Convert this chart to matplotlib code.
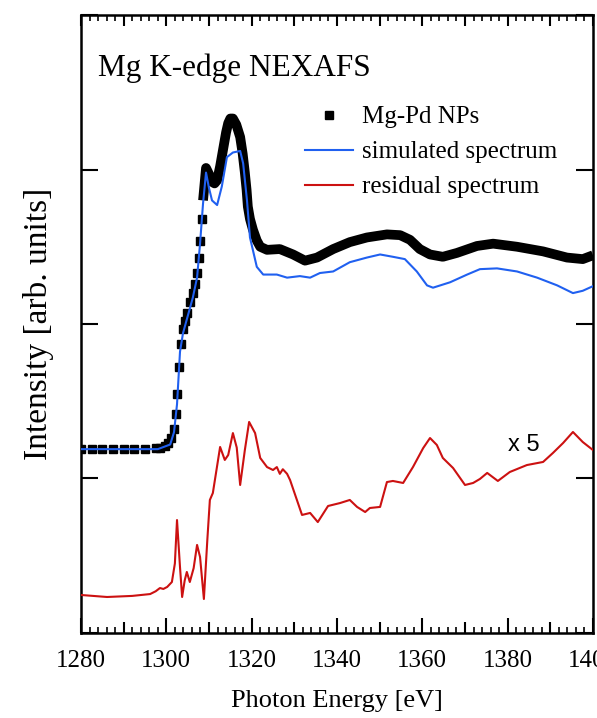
import numpy as np
import matplotlib
matplotlib.use("Agg")
import matplotlib.pyplot as plt
from matplotlib.ticker import MultipleLocator, FuncFormatter
from matplotlib.lines import Line2D

E_exp = [1280, 1282.5, 1285, 1287.5, 1290, 1292.5, 1295, 1297.5, 1298.6, 1299.6,
         1300.5, 1301.2, 1301.8, 1302.2, 1302.6, 1303.0, 1303.4, 1303.9, 1304.4,
         1304.8, 1305.5, 1306.2, 1306.7, 1307.2, 1307.6, 1307.9, 1308.3, 1308.6,
         1309.0, 1309.3, 1310.0, 1310.7, 1311.3, 1311.9, 1312.6, 1313.3, 1314.0,
         1314.5, 1315.0, 1315.6, 1316.4, 1317.3, 1317.9, 1318.4, 1318.8, 1319.1,
         1319.6, 1320.3, 1321.2, 1322.0, 1323.6, 1326.6, 1329.7, 1332.5, 1335.3,
         1339.1, 1343.0, 1347.0, 1351.7, 1354.8, 1357.1, 1359.4, 1361.8, 1364.8,
         1368.1, 1372.8, 1376.6, 1382.2, 1388.3, 1393.9, 1397.6, 1400.0]
I_exp = [1.19, 1.19, 1.19, 1.19, 1.19, 1.19, 1.19, 1.20, 1.20, 1.21,
         1.23, 1.26, 1.32, 1.42, 1.55, 1.72, 1.87, 1.97, 2.02,
         2.07, 2.14, 2.20, 2.26, 2.33, 2.43, 2.54, 2.68, 2.80,
         2.92, 3.01, 2.97, 2.92, 2.91, 2.93, 3.02, 3.13, 3.24,
         3.30, 3.33, 3.33, 3.29, 3.21, 3.10, 2.98, 2.87, 2.76,
         2.68, 2.61, 2.54, 2.50, 2.48, 2.485, 2.45, 2.41, 2.43,
         2.485, 2.53, 2.56, 2.58, 2.575, 2.545, 2.485, 2.45, 2.435,
         2.46, 2.505, 2.52, 2.50, 2.47, 2.43, 2.42, 2.445]

# simulated spectrum
E_sim = [1280, 1290, 1298, 1300.9, 1301.8, 1302.5, 1303.2, 1303.9, 1304.8, 1306.2,
         1307.2, 1307.9, 1308.6, 1309.3, 1310.0, 1310.7, 1311.9, 1313.0, 1314.2,
         1315.6, 1317.3, 1318.0, 1318.9, 1319.6, 1321.2, 1322.7, 1325.9, 1328.3,
         1331.3, 1333.7, 1336.0, 1339.1, 1343.0, 1347.0, 1350.1, 1353.1, 1355.9,
         1358.7, 1361.1, 1362.5, 1366.5, 1370.5, 1373.5, 1377.5, 1382.2, 1386.9,
         1391.6, 1395.3, 1397.6, 1400.0]
I_sim = [1.19, 1.19, 1.19, 1.22, 1.30, 1.48, 1.82, 1.94, 2.03, 2.17,
         2.30, 2.52, 2.78, 2.98, 2.88, 2.80, 2.77, 2.89, 3.08,
         3.11, 3.12, 3.04, 2.80, 2.56, 2.37, 2.32, 2.32, 2.30,
         2.31, 2.30, 2.33, 2.34, 2.40, 2.43, 2.45, 2.435, 2.42,
         2.34, 2.25, 2.235, 2.27, 2.32, 2.355, 2.36, 2.34, 2.30,
         2.25, 2.20, 2.215, 2.245]

# residual spectrum (x5, offset)
E_res = [1280.0, 1286.1, 1292.0, 1296.2, 1297.5, 1298.5, 1299.3, 1300.2, 1301.3,
         1302.0, 1302.5, 1303.2, 1303.7, 1304.3, 1304.8, 1305.5, 1306.4, 1307.2,
         1307.9, 1308.8, 1309.6, 1310.2, 1310.9, 1312.6, 1313.7, 1314.5, 1315.6,
         1316.5, 1317.3, 1318.4, 1319.4, 1320.8, 1322.0, 1323.6, 1325.0, 1325.9,
         1326.6, 1327.3, 1328.3, 1329.0, 1330.6, 1331.8, 1333.7, 1335.5, 1337.9,
         1340.7, 1343.0, 1344.7, 1346.6, 1347.7, 1350.1, 1351.7, 1353.1, 1355.5,
         1357.8, 1360.2, 1361.8, 1363.4, 1364.8, 1367.2, 1370.0, 1371.9, 1373.5,
         1375.2, 1377.7, 1380.5, 1384.5, 1388.3, 1390.6, 1393.0, 1395.3, 1397.6,
         1400.0]
I_res = [0.246, 0.233, 0.240, 0.252, 0.270, 0.291, 0.285, 0.298, 0.330,
         0.45, 0.731, 0.427, 0.233, 0.340, 0.395, 0.330, 0.420, 0.570,
         0.492, 0.220, 0.60, 0.861, 0.906, 1.204, 1.120, 1.152, 1.294,
         1.20, 0.958, 1.184, 1.366, 1.294, 1.133, 1.074, 1.055, 1.074,
         1.030, 1.060, 1.030, 0.990, 0.861, 0.764, 0.777, 0.718, 0.822,
         0.841, 0.861, 0.816, 0.783, 0.809, 0.816, 0.977, 0.984, 0.971,
         1.074, 1.197, 1.262, 1.217, 1.133, 1.068, 0.958, 0.971, 0.997,
         1.036, 0.984, 1.042, 1.087, 1.107, 1.165, 1.230, 1.301, 1.236,
         1.184]

serif = ["Liberation Serif", "DejaVu Serif"]
blue = "#2060f0"
red = "#cc1111"

fig = plt.figure(figsize=(5.97, 7.18), dpi=100)
ax = fig.add_axes([0.1357, 0.1184, 0.8576, 0.8607])

E_exp_a = np.array(E_exp)
I_exp_a = np.array(I_exp)
dense = E_exp_a >= 1308.5
ax.plot(E_exp_a[dense], I_exp_a[dense], color="k", lw=7, solid_capstyle="butt",
        solid_joinstyle="round", zorder=2)
ax.plot(E_exp_a[~dense], I_exp_a[~dense], ls="none", marker="s", ms=5.5, color="k", zorder=2)
ax.plot(E_sim, I_sim, color=blue, lw=1.5, zorder=3)
ax.plot(E_res, I_res, color=red, lw=1.5, zorder=3)

ax.set_xlim(1280, 1400)
ax.set_ylim(0, 4)

ax.xaxis.set_major_locator(MultipleLocator(10))
ax.xaxis.set_minor_locator(MultipleLocator(2))
ax.xaxis.set_major_formatter(FuncFormatter(lambda v, p: f"{v:.0f}" if round(v) % 20 == 0 else ""))
ax.yaxis.set_major_locator(MultipleLocator(1))
ax.yaxis.set_major_formatter(FuncFormatter(lambda v, p: ""))

ax.tick_params(axis="x", which="major", direction="in", top=True, length=8, width=1.5, pad=12,
               labelsize=18)
ax.tick_params(axis="x", which="minor", direction="in", top=True, length=4.5, width=1.2)
ax.tick_params(axis="y", which="major", direction="in", right=True, length=12, width=1.5)
for lab in ax.get_xticklabels():
    lab.set_family(serif)
for t in ax.xaxis.get_major_ticks():
    if round(t.get_loc()) % 20 == 0:
        t.tick1line.set_markersize(11)
        t.tick2line.set_markersize(8)
for s in ax.spines.values():
    s.set_linewidth(1.8)

ax.set_xlabel("Photon Energy [eV]", family=serif, fontsize=19, labelpad=13)
ax.set_ylabel("Intensity [arb. units]", family=serif, fontsize=24, labelpad=16)

ax.text(0.033, 0.914, "Mg K-edge NEXAFS", transform=ax.transAxes, family=serif,
        fontsize=22.5, va="center", ha="left")
ax.text(1380.1, 1.22, "x 5", family=["Liberation Sans", "DejaVu Sans"], fontsize=17,
        va="center", ha="left")

handles = [Line2D([], [], ls="none", marker="s", ms=5.5, color="k"),
           Line2D([], [], color=blue, lw=1.5),
           Line2D([], [], color=red, lw=1.5)]
ax.legend(handles, ["Mg-Pd NPs", "simulated spectrum", "residual spectrum"],
          loc="upper left", bbox_to_anchor=(0.4375, 0.853), frameon=False,
          prop={"family": serif, "size": 18}, handlelength=1.9, handletextpad=0.36,
          labelspacing=0.5, borderaxespad=0, borderpad=0)

fig.savefig("out.png", dpi=100)
